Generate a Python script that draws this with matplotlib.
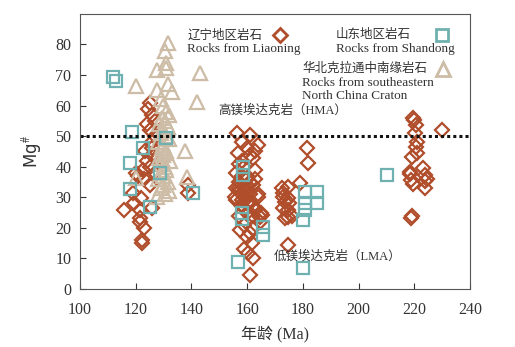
import matplotlib
matplotlib.use("Agg")
from matplotlib import pyplot as plt

plt.rcParams['mathtext.fontset'] = 'stix'

# Liaoning rocks (diamonds)
ln_age = [116, 121.5, 121.5, 121.5, 122.2, 122.2, 122, 126, 119, 122.6,
          125, 121, 123, 124, 126, 127, 125, 120, 123.5, 126,
          127, 125, 125, 124.4, 126, 127, 124, 138.8, 138.8, 128,
          126, 119.5, 123,
          156.3, 161, 164, 156.7, 158, 160, 162, 157, 159, 163,
          156, 158, 160, 161, 162, 157, 159, 164, 155.5, 158,
          160, 162, 163, 157, 159, 161, 156, 158, 160, 162,
          164, 157, 159, 161, 163, 156, 158, 160, 165, 157.4,
          161, 161.7, 160.3, 161, 164.6, 164.6, 159, 162, 160,
          157, 163, 158, 161, 165.3, 159, 162,
          181.5, 181.9, 172.5, 174.7, 179, 172.9, 174.7, 173.6, 175, 172.9,
          174.7, 174.7, 173.6, 174.7, 173, 176,
          219.5, 220, 220.5, 230, 220.2, 221, 220.5, 219.2, 221, 223,
          218.5, 218.5, 218.8, 223.8, 223.8, 223.8, 219.5, 218.8, 219, 224.5]
ln_mg = [26, 26, 23.3, 22, 15, 16, 29.8, 26.5, 31.5, 39,
         40, 37, 36, 42, 44, 38, 34, 38, 45, 48,
         50, 52, 61, 59, 57, 55, 54, 31.5, 34, 43,
         46, 28, 20,
         51, 50.5, 47, 44.6, 48, 46, 43, 41, 40, 39,
         38, 37, 36, 35, 34, 33, 32, 31, 30, 29,
         28, 27, 26, 35, 33, 31, 29, 27, 25, 24,
         30, 32, 30, 28, 36, 33, 31, 33, 25, 19.3,
         18.3, 15, 11.8, 4.6, 23.6, 22, 21, 20, 17,
         24, 45, 42, 44, 24.3, 13, 10,
         46.2, 41.3, 33, 33.4, 34.8, 31.5, 29.8, 28.5, 28, 26.5,
         26, 23.6, 23.3, 14.4, 30, 24,
         56, 55.4, 53.8, 52.1, 51, 48.2, 46.6, 43.3, 44.6, 39.7,
         38.4, 37.5, 35.8, 37.4, 35.2, 33, 34.5, 23.3, 23.8, 36]

# Shandong rocks (squares)
sd_age = [111.8, 113, 118.6, 131, 122.6, 118, 118, 125, 128.7, 140.6,
          156.7, 158.5, 158.5, 158, 158, 165.7, 165.7,
          180.8, 185, 185, 180.8, 180.8, 180, 180, 210]
sd_mg = [69.2, 67.9, 51.5, 49.5, 46.2, 41.3, 32.8, 26.9, 38, 31.5,
         8.9, 40, 37.4, 25, 23, 20.3, 17.7,
         31.8, 31.8, 28.2, 28.2, 26, 22.6, 6.9, 37.4]

# southeastern North China Craton rocks (triangles)
nc_age = [131.6, 130.5, 131, 127.6, 131, 120, 143, 142, 127.6, 131.6,
          133, 137.7, 138.4, 120, 127.6, 129, 130, 131, 132, 129.5,
          130.5, 128.5, 131.5, 130, 129, 131, 132, 128, 130, 129.5,
          131, 130, 128.5, 132.5, 129, 130.5, 131, 129, 130, 128,
          131.5, 130, 129, 132, 130.5, 129.5, 131]
nc_mg = [80.6, 77.7, 74, 71.8, 72.4, 66.5, 70.8, 61.3, 65, 67,
         64.6, 45, 36.7, 36.4, 30.2, 62, 60, 58, 57, 56,
         55, 54, 53, 52, 51, 50, 49, 48, 47, 46,
         45, 44, 43, 42, 41, 40, 39, 38, 37, 36,
         35, 34, 33, 32, 31, 42.5, 44.5]

dia_c = '#B04E2C'
sq_c = '#6FB1B0'
tri_c = '#CDBCA6'

serif_cjk = ['Liberation Serif', 'Noto Sans CJK SC']

fig = plt.figure(figsize=(5.15, 3.47), dpi=100)
ax = fig.add_axes([0.155, 0.167, 0.758, 0.793])

ax.plot(ln_age, ln_mg, 'D', mfc='none', mec=dia_c, mew=1.6, ms=7, ls='none')
ax.plot(nc_age, nc_mg, '^', mfc='none', mec=tri_c, mew=1.6, ms=10.5, ls='none')
ax.plot(sd_age, sd_mg, 's', mfc='none', mec=sq_c, mew=1.6, ms=8, ls='none')

ax.axhline(50, color='#111111', ls=(0, (1, 1)), lw=2.2)

ax.set_xlim(100, 240)
ax.set_ylim(0, 90)
ax.set_xticks(range(100, 241, 20))
ax.set_yticks(range(0, 81, 10))
ax.tick_params(direction='in', labelsize=11.5, colors='#333333', length=4)
ax.tick_params(axis='x', pad=9)
ax.tick_params(axis='y', pad=6)
for lab in ax.get_xticklabels() + ax.get_yticklabels():
    lab.set_family('Liberation Serif')
for s in ax.spines.values():
    s.set_color('#555555')

ax.set_xlabel('年龄 (Ma)', family=serif_cjk, fontsize=11.5, color='#333333', labelpad=6)
ax.set_ylabel(r'Mg$^{\#}$', fontsize=12, color='#333333', labelpad=8)

# legend, drawn by hand as in the original
ax.text(0.275, 0.922, '辽宁地区岩石', transform=ax.transAxes, family=serif_cjk,
        fontsize=9, color='#333333', va='center')
ax.text(0.275, 0.872, 'Rocks from Liaoning', transform=ax.transAxes,
        family='Liberation Serif', fontsize=9.5, color='#333333', va='center')
ax.plot([0.513], [0.922], 'D', transform=ax.transAxes, mfc='none', mec=dia_c,
        mew=2, ms=7, clip_on=False)

ax.text(0.656, 0.922, '山东地区岩石', transform=ax.transAxes, family=serif_cjk,
        fontsize=9, color='#333333', va='center')
ax.text(0.656, 0.872, 'Rocks from Shandong', transform=ax.transAxes,
        family='Liberation Serif', fontsize=9.5, color='#333333', va='center')
ax.plot([0.928], [0.922], 's', transform=ax.transAxes, mfc='none', mec=sq_c,
        mew=2, ms=8, clip_on=False)

ax.text(0.569, 0.800, '华北克拉通中南缘岩石', transform=ax.transAxes, family=serif_cjk,
        fontsize=9, color='#333333', va='center')
ax.text(0.569, 0.750, 'Rocks from southeastern', transform=ax.transAxes,
        family='Liberation Serif', fontsize=9.5, color='#333333', va='center')
ax.text(0.569, 0.700, 'North China Craton', transform=ax.transAxes,
        family='Liberation Serif', fontsize=9.5, color='#333333', va='center')
ax.plot([0.931], [0.800], '^', transform=ax.transAxes, mfc='none', mec=tri_c,
        mew=2, ms=10, clip_on=False)

ax.text(0.354, 0.650, '高镁埃达克岩（HMA）', transform=ax.transAxes, family=serif_cjk,
        fontsize=9, color='#333333', va='center')
ax.text(0.497, 0.117, '低镁埃达克岩（LMA）', transform=ax.transAxes, family=serif_cjk,
        fontsize=9, color='#333333', va='center')

fig.savefig('out.png', dpi=100)
